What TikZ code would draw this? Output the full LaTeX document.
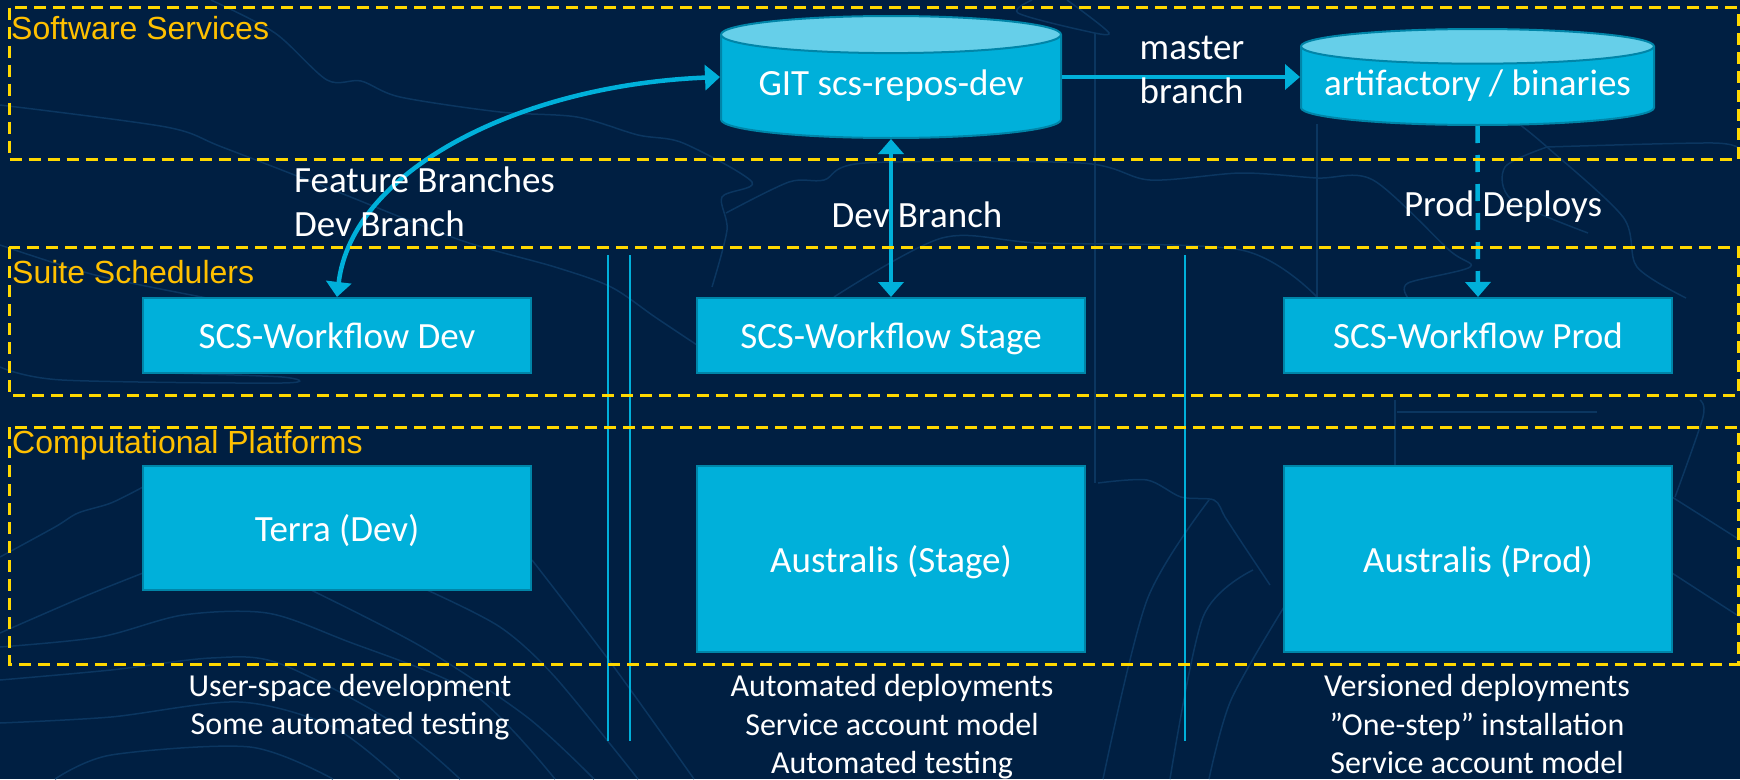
\documentclass[tikz,border=0pt]{standalone}
\usepackage{fontspec}
\setmainfont{Carlito}
\newfontfamily\labelfont{Liberation Sans}
\usetikzlibrary{positioning}
\usetikzlibrary{shapes.geometric}
\usetikzlibrary{arrows.meta}
\definecolor{bgnavy}{HTML}{001F42}
\definecolor{mapline}{HTML}{0B3660}
\definecolor{boxblue}{HTML}{00B0DA}
\definecolor{boxedge}{HTML}{0085A8}
\definecolor{captop}{HTML}{66CFE9}
\definecolor{framegold}{HTML}{FFD800}
\definecolor{labelgold}{HTML}{FFC000}
\tikzset{
    unitbox/.style={draw=boxedge, line width=2pt, fill=boxblue, text=white, font=\fontsize{37}{44}\selectfont, minimum width=388pt, text height=30pt, text depth=4pt},
    store/.style={cylinder, shape border rotate=90, anchor=shape center, draw=boxedge, line width=2pt, cylinder uses custom fill, cylinder body fill=boxblue, cylinder end fill=captop, text=white, font=\fontsize{37}{44}\selectfont, inner sep=0pt, text height=30pt, text depth=12pt},
    note/.style={text=white, font=\fontsize{37}{44}\selectfont, align=left, inner sep=0pt},
    caption/.style={text=white, font=\fontsize{32}{38.5}\selectfont, align=center, inner sep=0pt},
    tier/.style={text=labelgold, font=\labelfont\fontsize{32}{36}\selectfont, anchor=west, inner sep=0pt},
    frame/.style={draw=framegold, line width=3pt, dash pattern=on 12pt off 7pt},
    flow/.style={draw=boxblue, line width=4.5pt},
    bothtips/.style={{Triangle[length=15pt,width=25pt]}-{Triangle[length=15pt,width=25pt]}},
    endtip/.style={-{Triangle[length=15pt,width=25pt]}},
    mapcurve/.style={draw=mapline, line width=1.5pt},
}
\begin{document}
\begin{tikzpicture}[x=1pt,y=-1pt]
    \useasboundingbox (0,0) rectangle (1740,779);
    \fill[bgnavy] (0,0) rectangle (1740,779);

    \draw[mapcurve] plot[smooth] coordinates {(211,0) (275,33) (327,80) (361,81) (400,97) (500,112) (577,117) (638,135) (683,143) (752,182) (722,197) (727,230) (712,287)};
    \draw[mapcurve] plot[smooth] coordinates {(0,105) (166,127) (222,147) (333,190) (460,240) (555,267) (611,287) (655,317) (697,345)};
    \draw[mapcurve] plot[smooth] coordinates {(0,557) (55,527) (78,513) (111,503) (143,487)};
    \draw[mapcurve] plot[smooth] coordinates {(0,633) (83,597) (143,573)};
    \draw[mapcurve] plot[smooth] coordinates {(0,647) (100,637) (183,615) (267,613) (344,640) (472,693) (555,779)};
    \draw[mapcurve] plot[smooth] coordinates {(311,590) (422,647) (527,717) (594,779)};
    \draw[mapcurve] plot[smooth] coordinates {(427,590) (500,627) (555,677) (638,779)};
    \draw[mapcurve] plot[smooth] coordinates {(532,560) (611,663) (694,779)};
    \draw[mapcurve] plot[smooth] coordinates {(0,680) (111,670) (211,658) (278,663) (389,720) (460,779)};
    \draw[mapcurve] plot[smooth] coordinates {(0,723) (111,717) (239,702) (333,727) (400,779)};
    \draw[mapcurve] plot[smooth] coordinates {(55,779) (111,755) (250,747) (333,779)};
    \draw[mapcurve] plot[smooth] coordinates {(0,367) (62,380) (282,383) (282,377) (166,373)};
    \draw[mapcurve] plot[smooth] coordinates {(0,245) (95,275) (207,298)};
    \draw[mapcurve] plot coordinates {(1095,33) (1095,483)};
    \draw[mapcurve] plot coordinates {(1317,124) (1317,297)};
    \draw[mapcurve] plot[smooth] coordinates {(1098,483) (1147,480) (1181,497) (1214,500) (1225,517) (1242,543) (1270,585)};
    \draw[mapcurve] plot[smooth] coordinates {(1209,500) (1147,600) (1103,779)};
    \draw[mapcurve] plot[smooth] coordinates {(1253,570) (1203,617) (1170,779)};
    \draw[mapcurve] plot[smooth] coordinates {(1284,607) (1231,700) (1209,779)};
    \draw[mapcurve] plot[smooth] coordinates {(1032,0) (1018,13) (1081,30) (1109,33) (1067,0)};
    \draw[mapcurve] plot[smooth] coordinates {(726,213) (789,182) (824,180) (865,163) (1081,163) (1150,180) (1241,173) (1317,178) (1373,180) (1449,250) (1470,267) (1408,283) (1408,298)};
    \draw[mapcurve] plot[smooth] coordinates {(834,297) (942,238) (1039,243) (1241,250) (1317,297)};
    \draw[mapcurve] plot[smooth] coordinates {(1519,124) (1547,147) (1623,217) (1637,267) (1686,298)};
    \draw[mapcurve] plot[smooth] coordinates {(1547,147) (1505,167) (1512,200) (1588,233)};
    \draw[mapcurve] plot[smooth] coordinates {(1547,147) (1713,143) (1740,150)};
    \draw[mapcurve] plot coordinates {(1395,400) (1395,467)};
    \draw[mapcurve] plot coordinates {(1397,412) (1597,412)};
    \draw[mapcurve] plot[smooth] coordinates {(1672,497) (1740,540)};
    \draw[mapcurve] plot[smooth] coordinates {(1672,573) (1740,617)};
    \draw[mapcurve] plot[smooth] coordinates {(1675,497) (1703,417) (1700,400)};

    \node[store, minimum width=340pt, minimum height=122pt, aspect=.14] (gitrepo) at (891,77) {GIT scs-repos-dev};
    \node[store, minimum width=353pt, minimum height=96pt, aspect=.113] (artifacts) at (1477.5,77) {artifactory / binaries};

    \node[unitbox, minimum height=75pt] (wfdev) at (337,335.5) {SCS-Workflow Dev};
    \node[unitbox, minimum height=75pt] (wfstage) at (891,335.5) {SCS-Workflow Stage};
    \node[unitbox, minimum height=75pt] (wfprod) at (1478,335.5) {SCS-Workflow Prod};
    \node[unitbox, minimum height=124pt] (terra) at (337,528) {Terra (Dev)};
    \node[unitbox, minimum height=186pt] (auststage) at (891,559) {Australis (Stage)};
    \node[unitbox, minimum height=186pt] (austprod) at (1478,559) {Australis (Prod)};

    \draw[flow, bothtips] (wfdev.north) .. controls (352,170) and (520,85) .. (gitrepo.shape center -| gitrepo.west);
    \draw[flow, endtip] (gitrepo.shape center -| gitrepo.east) -- (artifacts.shape center -| artifacts.west);
    \draw[flow, bothtips] (gitrepo.south) -- (wfstage.north);
    \draw[flow, endtip, dash pattern=on 17pt off 12pt] (artifacts.south) -- (wfprod.north);

    \foreach \x in {608,630,1185}
        \draw[boxblue, line width=1.3pt] (\x,255) -- (\x,741);
    \foreach \top/\bottom in {7.5/159,247/395,427/664}
        \draw[frame] (9,\top) rectangle (1738,\bottom);

    \node[tier] (softlabel) at (11,28) {Software Services};
    \node[tier] (suitelabel) at (12,272) {Suite Schedulers};
    \node[tier] (complabel) at (12,445) {Computational Platforms};

    \node[note] (mastertext) at (1192,70) {master\\branch};
    \node[note, anchor=west] (devtext) at (294,202) {Feature Branches\\Dev Branch};
    \node[note] (stagetext) at (917,215) {Dev Branch};
    \node[note] (prodtext) at (1503,207) {Prod Deploys};

    \node[caption] (devcaption) at (350,707) {User-space development\\Some automated testing};
    \node[caption] (stagecaption) at (892,727) {Automated deployments\\Service account model\\Automated testing};
    \node[caption] (prodcaption) at (1477,724) {Versioned deployments\\"One-step" installation\\Service account model};
\end{tikzpicture}
\end{document}
